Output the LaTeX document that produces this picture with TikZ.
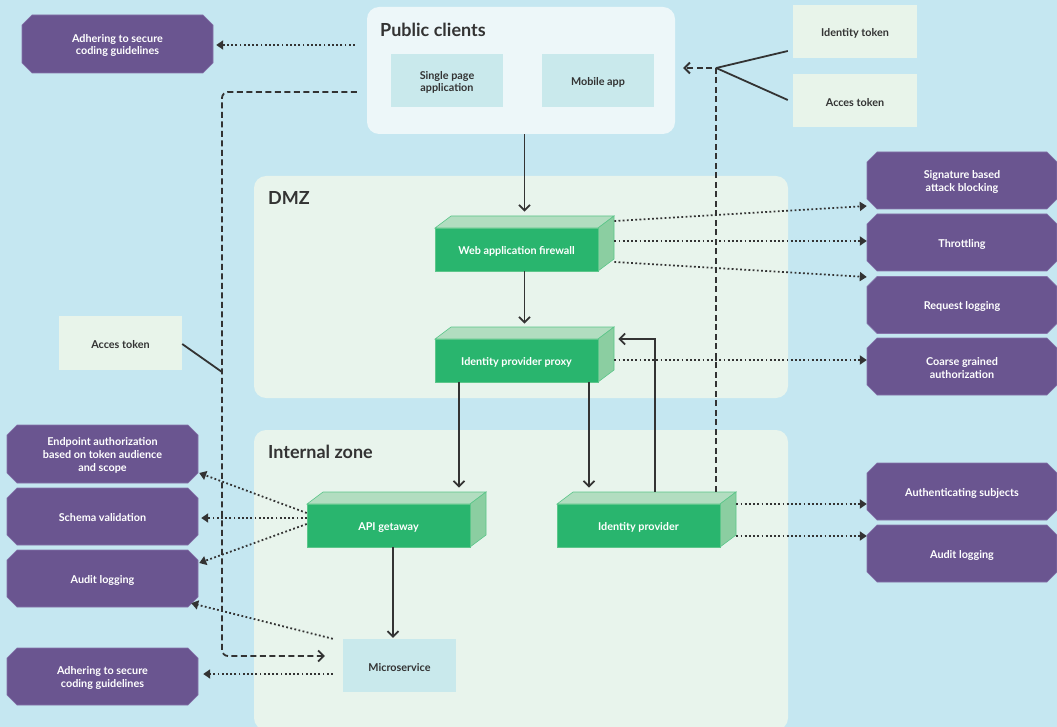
\documentclass[tikz,border=0pt]{standalone}
\usepackage{fontspec}
\setmainfont{Lato}
\usetikzlibrary{arrows.meta,calc}
\definecolor{bg}{HTML}{C5E7F1}
\definecolor{zonepc}{HTML}{EDF7F9}
\definecolor{zonein}{HTML}{E8F4EC}
\definecolor{lightbox}{HTML}{C9E9EC}
\definecolor{tokbox}{HTML}{E8F4EA}
\definecolor{purp}{HTML}{6A5590}
\definecolor{purpedge}{HTML}{8674AA}
\definecolor{gfront}{HTML}{29B56E}
\definecolor{gtop}{HTML}{B2DDC0}
\definecolor{gside}{HTML}{8BCEA1}
\definecolor{gedge}{HTML}{5CC68A}
\definecolor{ink}{HTML}{333333}
\newcommand\gbox[4]{%
  \fill[gtop, draw=gedge, line width=0.6pt] ({#2-81.5},{#3-21.5}) -- ++(16,-12) -- ++(163,0) -- ++(-16,12) -- cycle;
  \fill[gside, draw=gedge, line width=0.6pt] ({#2+81.5},{#3-21.5}) -- ++(16,-12) -- ++(0,43) -- ++(-16,12) -- cycle;
  \node[gbx] (#1) at (#2,#3) {};
  \node[gtxt] (#1-t) at (#1) {#4};
}
\newcommand\octo[6]{%
  \fill[purp, draw=purpedge, line width=0.6pt]
    ({#2-#4/2+10},{#3-#5/2}) -- ({#2+#4/2-10},{#3-#5/2}) -- ({#2+#4/2},{#3-#5/2+10}) --
    ({#2+#4/2},{#3+#5/2-10}) -- ({#2+#4/2-10},{#3+#5/2}) -- ({#2-#4/2+10},{#3+#5/2}) --
    ({#2-#4/2},{#3+#5/2-10}) -- ({#2-#4/2},{#3-#5/2+10}) -- cycle;
  \node[inner sep=0, minimum width=#4pt, minimum height=#5pt] (#1) at (#2,#3) {};
  \node[ptxt] (#1-t) at (#1) {#6};
}
\newcommand\lb[6]{% name, fill, cx, cy, w, h ; text via \lbt
  \node[fill=#2, inner sep=0, minimum width=#5pt, minimum height=#6pt] (#1) at (#3,#4) {};
}
\begin{document}
\begin{tikzpicture}[x=1pt,y=-1pt,
  zone/.style={fill=#1, rounded corners=12pt, inner sep=0},
  ztitle/.style={anchor=base west, text=ink, font=\fontsize{18}{21}\selectfont\bfseries, inner sep=0},
  ltxt/.style={text=ink, font=\fontsize{10.8}{12.8}\selectfont\bfseries, align=center, inner sep=0, yshift=-1.8pt},
  gbx/.style={fill=gfront, draw=gedge, line width=0.6pt, minimum width=163pt, minimum height=43pt, inner sep=0},
  gtxt/.style={text=white, font=\fontsize{10.8}{12.8}\selectfont\bfseries, inner sep=0, yshift=-1.8pt},
  ptxt/.style={text=white, font=\fontsize{10.8}{12.9}\selectfont\bfseries, align=center, inner sep=0, yshift=-1.5pt},
  conn/.style={draw=ink, line width=1.8pt, -{Straight Barb[length=5.5pt,width=11pt]}},
  dotconn/.style={draw=ink, line width=1.8pt, dash pattern=on 1.8pt off 2.4pt, -{Triangle[length=7pt,width=9pt]}},
  dashconn/.style={draw=ink, line width=1.8pt, dash pattern=on 6pt off 3.5pt},
  plain/.style={draw=ink, line width=1.8pt}
]
\useasboundingbox[fill=bg] (0,0) rectangle (1057,727);

% zones
\node[zone=zonepc, minimum width=308pt, minimum height=127pt] (pc) at (521,70.5) {};
\node[ztitle] (pct) at (380,36.5) {Public clients};
\node[zone=zonein, minimum width=534pt, minimum height=222pt] (dmz) at (521,287) {};
\node[ztitle] (dmzt) at (268,204.5) {DMZ};
\node[zone=zonein, minimum width=534pt, minimum height=300pt] (iz) at (521,580) {};
\node[ztitle] (izt) at (268,458.5) {Internal zone};

% light boxes
\lb{spa}{lightbox}{447}{80.5}{112}{53}   \node[ltxt] (spa-t) at (spa) {Single page\\application};
\lb{mob}{lightbox}{598}{80.5}{112}{53}   \node[ltxt] (mob-t) at (mob) {Mobile app};
\lb{ms}{lightbox}{399.5}{665.5}{113}{53} \node[ltxt] (ms-t) at (ms) {Microservice};
\lb{idt}{tokbox}{855}{31.5}{124}{53}     \node[ltxt] (idt-t) at (idt) {Identity token};
\lb{at2}{tokbox}{855}{100.5}{124}{53}    \node[ltxt] (at2-t) at (at2) {Acces token};
\lb{at3}{tokbox}{120.5}{343}{123}{54}    \node[ltxt] (at3-t) at (at3) {Acces token};

% green boxes
\gbox{waf}{516.5}{249.5}{Web application firewall}
\gbox{prx}{516.5}{360.5}{Identity provider proxy}
\gbox{api}{388.5}{525.5}{API getaway}
\gbox{idp}{638.5}{525.5}{Identity provider}

% purple boxes
\octo{adh1}{117.5}{44}{191}{58}{Adhering to secure\\coding guidelines}
\octo{sig}{962}{180.5}{190}{57}{Signature based\\attack blocking}
\octo{thr}{962}{242.5}{190}{57}{Throttling}
\octo{req}{962}{305}{190}{57}{Request logging}
\octo{coa}{962}{366.5}{190}{57}{Coarse grained\\authorization}
\octo{auth}{962}{491.5}{190}{57}{Authenticating subjects}
\octo{audr}{962}{553.5}{190}{57}{Audit logging}
\octo{endp}{102.5}{454}{191}{58}{Endpoint authorization\\based on token audience\\and scope}
\octo{sch}{102.5}{516.5}{191}{57}{Schema validation}
\octo{audl}{102.5}{578.5}{191}{57}{Audit logging}
\octo{adh2}{102.5}{676.5}{191}{57}{Adhering to secure\\coding guidelines}

% solid connectors
\coordinate (waftop) at ($(waf.north)+(8,-16)$);
\draw[conn] (pc.south -| waftop) -- (waftop);
\coordinate (prxtop) at ($(prx.north)+(8,-15)$);
\draw[conn] (waf.south -| prxtop) -- (prxtop);
\coordinate (apitop) at ($(api.north)+(0,-16)$);
\draw[conn] ($(prx.south)+(-57.5,0)$) coordinate (a1) -- (a1 |- apitop);
\draw[conn] ($(prx.south)+(72.5,0)$) coordinate (a2) -- (a2 |- apitop);
\draw[conn] ($(idp.north)+(16.5,-12)$) |- ($(prx.east)+(20,-21.5)$);
\draw[conn] ($(api.south)+(4.5,0)$) coordinate (a3) -- ($(a3 |- ms.north)+(0,-1)$);

% dashed connectors
\coordinate (tokj) at ($(pc.east)+(41,-2.5)$);
\draw[dashconn, -{Straight Barb[length=5.5pt,width=11pt]}] ($(idp.north)+(77.5,-12)$) |- ($(pc.east)+(8,-2.5)$);
\draw[plain] (tokj) -- ($(idt.west)+(-5,19.5)$);
\draw[plain] (tokj) -- ($(at2.west)+(-5,-0.5)$);
\coordinate (dl) at (222,92);
\coordinate (db) at (222,656);
\draw[dashconn, rounded corners=6pt, -{Straight Barb[length=5.5pt,width=11pt]}] ($(pc.west)+(-10,21.5)$) -- (dl) -- (db) -- ($(ms.west)+(-18,-9.5)$);
\draw[plain] ($(at3.east)+(0,1)$) -- (222,372);

% dotted connectors
\draw[dotconn] ($(pc.west)+(-12,-25.5)$) -- ($(adh1.east)+(3,1)$);
\draw[dotconn] ($(waf.east)+(16,-28.5)$) -- ($(sig.west)+(0,25.5)$);
\draw[dotconn] ($(waf.east)+(16,-8.5)$) -- ($(thr.west)+(0,-1.5)$);
\draw[dotconn] ($(waf.east)+(16,12.5)$) -- ($(req.west)+(0,-28)$);
\draw[dotconn] ($(prx.east)+(16,-0.5)$) -- ($(coa.west)+(0,-6.5)$);
\draw[dotconn] ($(idp.east)+(16,-21.5)$) -- ($(auth.west)+(0,12.5)$);
\draw[dotconn] ($(idp.east)+(16,10.5)$) -- ($(audr.west)+(0,-17.5)$);
\draw[dotconn] ($(api.west)+(0,-12.5)$) -- ($(endp.east)+(1,19)$);
\draw[dotconn] ($(api.west)+(0,-7.5)$) -- ($(sch.east)+(3,1.5)$);
\draw[dotconn] ($(api.west)+(0,-1.5)$) -- ($(audl.east)+(1,-15.5)$);
\draw[dotconn] ($(ms.north west)+(-10,0)$) -- ($(audl.south east)+(-7,-4)$);
\draw[dotconn] ($(ms.west)+(-10,8.5)$) -- ($(adh2.east)+(5,-2.5)$);
\end{tikzpicture}
\end{document}
